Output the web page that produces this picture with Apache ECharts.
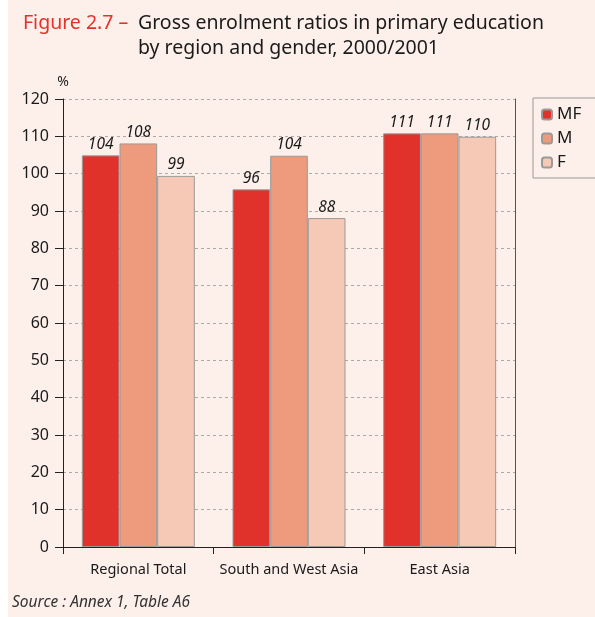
<!DOCTYPE html>
<html>
<head>
<meta charset="utf-8">
<script src="https://cdn.jsdelivr.net/npm/echarts@6/dist/echarts.min.js"></script>
<style>
html,body{margin:0;padding:0;background:#ffffff;}
#chart{width:595px;height:617px;}
</style>
</head>
<body>
<div id="chart"></div>
<script>
// Data
const categories = ['Regional Total', 'South and West Asia', 'East Asia'];
const seriesNames = ['MF', 'M', 'F'];
const valuesMF = [104.9, 95.8, 110.8];
const valuesM = [108.1, 104.8, 110.8];
const valuesF = [99.4, 88.1, 109.9];
const labelsMF = ['104', '96', '111'];
const labelsM = ['108', '104', '111'];
const labelsF = ['99', '88', '110'];
const yTicks = [0, 10, 20, 30, 40, 50, 60, 70, 80, 90, 100, 110, 120];

const FONT = '"Noto Sans", sans-serif';
const colors = ['#e0312a', '#ee9a7d', '#f6c8b6'];
const allValues = [valuesMF, valuesM, valuesF];
const allLabels = [labelsMF, labelsM, labelsF];

const chart = echarts.init(document.getElementById('chart'), null, {renderer: 'canvas'});

const series = seriesNames.map((name, i) => ({
  name: name,
  type: 'bar',
  data: allValues[i],
  barGap: '0%',
  barCategoryGap: '25%',
  itemStyle: {color: colors[i], borderColor: '#9a9a9a', borderWidth: 1},
  label: {
    show: true,
    position: 'top',
    distance: 3,
    formatter: p => allLabels[i][p.dataIndex],
    fontFamily: FONT,
    fontStyle: 'italic',
    fontSize: 15.5,
    color: '#1a1a1a'
  },
  emphasis: {disabled: true}
}));

chart.setOption({
  animation: false,
  backgroundColor: 'transparent',
  textStyle: {fontFamily: FONT},
  graphic: [
    {type: 'rect', left: 8, top: 0, shape: {width: 587, height: 617}, style: {fill: '#fdf0ea'}, z: -10, silent: true},
    {type: 'text', left: 23, top: 13, style: {text: 'Figure 2.7 \u2013', fill: '#e8302a', font: '19.5px ' + FONT}},
    {type: 'text', left: 138, top: 13, style: {text: 'Gross enrolment ratios in primary education', fill: '#1a1a1a', font: '19.5px ' + FONT}},
    {type: 'text', left: 138, top: 38, style: {text: 'by region and gender, 2000/2001', fill: '#1a1a1a', font: '19.5px ' + FONT}},
    {type: 'text', left: 12, top: 595, style: {text: 'Source : Annex 1, Table A6', fill: '#333', font: 'italic 15.5px ' + FONT}}
  ],
  legend: {
    data: seriesNames,
    orient: 'vertical',
    left: 533,
    top: 98,
    itemWidth: 10,
    itemHeight: 10,
    itemGap: 7,
    padding: [8, 22, 7, 8],
    borderColor: '#999',
    borderWidth: 1,
    textStyle: {fontFamily: FONT, fontSize: 17, color: '#1a1a1a'},
    selectedMode: false
  },
  grid: {left: 63, right: 80, top: 99, bottom: 70, containLabel: false},
  xAxis: {
    type: 'category',
    data: categories,
    axisLine: {show: true, lineStyle: {color: '#222', width: 1}},
    axisTick: {show: true, length: 7, lineStyle: {color: '#222'}},
    axisLabel: {fontFamily: FONT, fontSize: 14.5, color: '#1a1a1a', margin: 15, interval: 0}
  },
  yAxis: [
    {
      type: 'value',
      min: yTicks[0],
      max: yTicks[yTicks.length - 1],
      interval: 10,
      name: '%',
      nameLocation: 'end',
      nameGap: 10,
      nameTextStyle: {fontFamily: FONT, fontSize: 14, color: '#222', align: 'center'},
      axisLine: {show: true, lineStyle: {color: '#222', width: 1}},
      axisTick: {show: true, length: 8, lineStyle: {color: '#222'}},
      axisLabel: {fontFamily: FONT, fontSize: 16, color: '#1a1a1a', margin: 14},
      splitLine: {show: true, lineStyle: {color: '#aaa', type: [3, 3], width: 1}}
    },
    {
      type: 'value',
      min: yTicks[0],
      max: yTicks[yTicks.length - 1],
      interval: 10,
      position: 'right',
      axisLine: {show: true, lineStyle: {color: '#555', width: 1}},
      axisTick: {show: false},
      axisLabel: {show: false},
      splitLine: {show: false}
    }
  ],
  series: series
});
</script>
</body>
</html>
